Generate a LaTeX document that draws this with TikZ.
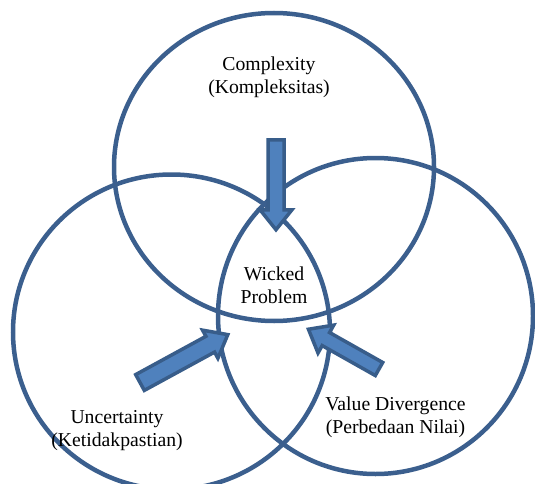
\documentclass[tikz,border=0pt]{standalone}
\usepackage{fontspec}
\setmainfont{Liberation Serif}
\usepackage{tikz}
\usetikzlibrary{shapes.geometric}
\definecolor{ringblue}{HTML}{3B5F8E}
\definecolor{arrowfill}{HTML}{4F81BD}
\definecolor{arrowline}{HTML}{385D8A}
\tikzset{ring/.style={draw=ringblue,line width=4.5pt,ellipse,inner sep=0pt}}
\tikzset{lbl/.style={align=center,anchor=base,inner sep=0pt,
                     font=\fontsize{19.7}{23}\selectfont}}
\tikzset{blockline/.style={draw=arrowline,fill=arrowfill,line width=3.5pt}}
\tikzset{pics/blockarrow/.style n args={2}{code={%
    \path[blockline] (0,-#2) -- (#1-20,-#2) -- (#1-20,-16) -- (#1,0)
         -- (#1-20,16) -- (#1-20,#2) -- (0,#2) -- cycle;
  }}}

\begin{document}
\begin{tikzpicture}[x=1pt,y=-1pt]
    \useasboundingbox (0,0) rectangle (535,484);
    % the three sets
    \node[ring,minimum width=320pt,minimum height=308pt] (cplx) at (274,167) {};
    \node[ring,minimum width=317pt,minimum height=315pt] (uncert) at (171.5,332) {};
    \node[ring,minimum width=315pt,minimum height=316pt] (valdiv) at (375.5,316) {};
    % arrows into the middle
    \pic[rotate=-90] (arrC) at (276,139.75) {blockarrow={90}{8}};
    \pic[rotate=28.6] (arrU) at (140,382.5) {blockarrow={100}{9}};
    \pic[rotate=150.6] (arrV) at (379,369) {blockarrow={81}{7.5}};
    % Labels
    \node[lbl] (cplxtext) at (269,94) {Complexity\\(Kompleksitas)};
    \node[lbl] (wicked) at (274,303) {Wicked\\Problem};
    \node[lbl] (uncerttext) at (117,446) {Uncertainty\\(Ketidakpastian)};
    \node[lbl] (valdivtext) at (395.5,433) {Value Divergence\\(Perbedaan Nilai)};
\end{tikzpicture}
\end{document}
